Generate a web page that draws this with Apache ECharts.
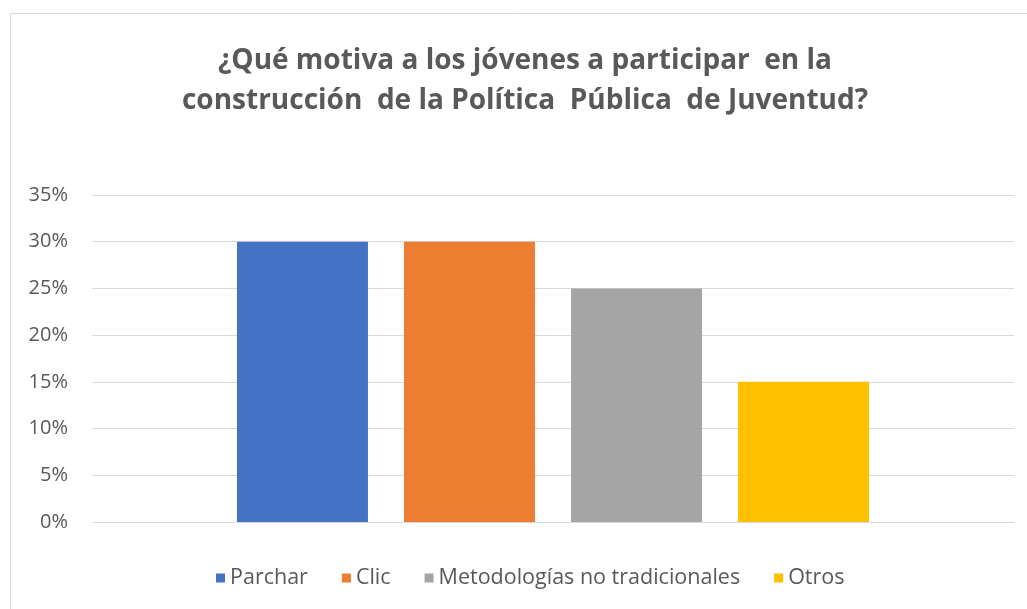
<!DOCTYPE html>
<html>
<head>
<meta charset="utf-8">
<script src="https://cdn.jsdelivr.net/npm/echarts@6/dist/echarts.min.js"></script>
<style>
html,body{margin:0;padding:0;background:#fff;}
#chart{width:1027px;height:609px;}
</style>
</head>
<body>
<div id="chart"></div>
<script>
// datos del gráfico
var categories = [''];
var seriesNames = ['Parchar', 'Clic', 'Metodologías no tradicionales', 'Otros'];
var seriesValues = [0.30, 0.30, 0.25, 0.15];
var seriesColors = ['#4472C4', '#ED7D31', '#A5A5A5', '#FFC000'];

var chart = echarts.init(document.getElementById('chart'));

var series = seriesNames.map(function (name, i) {
  return {
    name: name,
    type: 'bar',
    data: [seriesValues[i]],
    barWidth: 131,
    barGap: '27.5%',
    itemStyle: { color: seriesColors[i] }
  };
});

var option = {
  animation: false,
  textStyle: { fontFamily: 'Open Sans' },
  graphic: [{
    type: 'rect',
    shape: { x: 10.5, y: 13.5, width: 1030, height: 620 },
    style: { fill: 'none', stroke: '#d9d9d9', lineWidth: 1 }
  }],
  title: {
    text: '¿Qué motiva a los jóvenes a participar  en la\nconstrucción  de la Política  Pública  de Juventud?',
    left: 525,
    textAlign: 'center',
    top: 41,
    padding: 0,
    textStyle: {
      color: '#595959',
      fontSize: 28,
      fontWeight: 'bold',
      fontFamily: 'Open Sans',
      lineHeight: 40
    }
  },
  legend: {
    bottom: 15,
    left: 211,
    itemWidth: 9,
    itemHeight: 9,
    itemGap: 34,
    icon: 'rect',
    textStyle: { color: '#595959', fontSize: 21.5, fontFamily: 'Open Sans' },
    data: seriesNames
  },
  grid: { left: 92, right: 13, top: 195, bottom: 87 },
  xAxis: {
    type: 'category',
    data: categories,
    axisLine: { lineStyle: { color: '#d9d9d9' } },
    axisTick: { show: false },
    axisLabel: { show: false }
  },
  yAxis: {
    type: 'value',
    min: 0,
    max: 0.35,
    interval: 0.05,
    axisLine: { show: false },
    axisTick: { show: false },
    splitLine: { lineStyle: { color: '#d9d9d9' } },
    axisLabel: {
      color: '#595959',
      fontSize: 20,
      margin: 24,
      formatter: function (v) { return Math.round(v * 100) + '%'; }
    }
  },
  series: series
};

chart.setOption(option);
</script>
</body>
</html>
